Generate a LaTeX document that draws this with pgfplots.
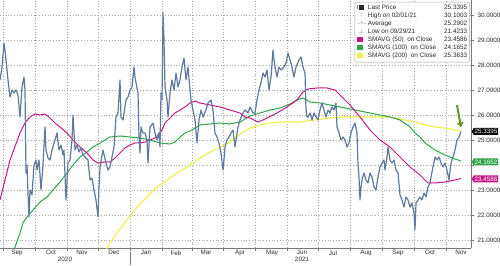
\documentclass[border=0pt]{standalone}
\usepackage{pgfplots}
\pgfplotsset{compat=1.18}
\usepackage{fontspec}
\setmainfont{Liberation Sans}
\usetikzlibrary{arrows.meta,shapes.symbols}
\definecolor{smaA}{RGB}{200,24,135}
\definecolor{smaB}{RGB}{45,165,75}
\definecolor{smaC}{RGB}{240,240,70}
\definecolor{pxc}{RGB}{95,122,155}
\definecolor{gridc}{RGB}{165,165,165}
\definecolor{axc}{RGB}{120,120,120}
\definecolor{arrowc}{RGB}{100,150,40}
\definecolor{txtc}{RGB}{40,40,40}

\pgfplotstableread{
x y
0 27.40
2 27.92
4 28.88
5 28.60
6 28.20
8 27.40
10 26.72
12 27.00
14 26.88
16 27.00
18 26.80
20 25.92
22 27.12
24 27.52
25 27.00
26 23.68
27 24.00
28 22.88
29 21.92
30 23.00
32 22.80
34 24.00
36 24.20
37 23.80
39 24.20
41 23.00
43 24.00
45 25.52
46 24.60
48 24.28
50 24.20
52 24.60
55 25.00
57 25.28
59 24.60
61 24.80
63 24.40
64 24.60
66 22.60
68 24.08
70 24.20
72 25.00
73 26.00
75 24.60
77 24.80
79 24.52
81 24.68
83 24.40
85 24.32
88 24.20
90 23.40
92 23.48
94 23.00
96 22.60
98 21.92
99 23.12
100 23.92
103 24.60
106 24.08
108 23.80
110 23.92
112 24.32
114 24.72
116 25.92
118 26.08
120 27.40
121 25.92
123 25.80
126 26.60
128 26.72
130 27.00
132 27.12
134 27.92
135 27.52
137 27.08
138 26.88
139 25.12
140 24.48
141 25.52
143 25.28
145 25.28
147 25.00
148 24.08
150 25.52
153 25.68
155 25.28
157 25.00
159 25.28
160 24.72
161 26.88
162 26.60
163 30.10
164 29.00
165 27.12
167 26.60
168 25.92
170 26.88
172 27.40
174 27.00
176 27.68
178 27.12
180 27.40
182 27.92
184 28.28
186 27.40
188 27.92
190 27.00
191 26.60
193 26.20
195 25.80
197 24.88
199 25.80
201 26.20
203 25.92
206 26.20
208 26.48
211 26.60
213 26.20
215 25.28
217 25.12
219 24.88
221 24.48
223 23.80
224 24.20
225 24.72
227 25.00
229 25.12
231 25.28
233 25.40
235 24.72
236 25.00
238 25.52
240 25.80
243 26.08
245 26.20
248 26.08
250 26.32
253 26.08
255 26.08
257 26.60
259 27.00
261 27.28
263 27.68
265 27.52
267 27.80
269 27.00
271 27.52
273 28.60
274 28.20
275 27.92
277 27.52
279 27.92
281 27.80
284 27.92
286 28.08
288 28.48
290 28.20
292 27.92
294 27.52
296 27.92
299 28.20
301 28.32
303 27.92
305 27.68
306 26.20
307 25.92
308 25.92
310 26.08
312 25.80
314 26.08
316 25.92
318 25.80
320 26.20
322 26.48
324 26.20
326 25.92
328 26.20
330 26.08
332 26.32
334 26.20
336 26.48
337 25.52
339 25.28
341 25.00
343 25.12
345 25.00
347 24.72
349 24.88
351 25.28
353 25.52
355 25.68
357 25.28
358 24.00
359 23.52
360 22.60
361 23.12
362 23.40
364 23.68
366 23.40
368 23.28
370 23.68
372 23.52
374 23.12
376 23.00
378 23.52
380 23.92
382 24.08
384 24.20
385 23.80
387 24.32
388 24.72
390 24.20
392 24.08
394 24.20
396 23.80
398 23.68
400 22.80
402 22.60
404 22.32
406 22.72
408 22.60
410 22.32
412 22.48
414 22.08
415 21.42
416 22.48
418 22.60
420 22.72
422 22.60
424 22.88
426 22.72
428 23.12
430 23.28
431 23.52
433 23.92
435 24.32
437 24.20
439 24.32
441 24.08
443 23.92
445 24.08
447 23.80
449 23.40
451 24.08
453 24.32
455 24.60
457 25.00
459 25.12
461 25.34
}\pricetable

\pgfplotstableread{
x y
0 22.60
10 24.20
20 25.28
25 25.68
30 25.92
35 26.04
40 26.00
45 26.04
50 25.88
55 25.68
60 25.52
67 25.28
73 25.00
80 24.72
87 24.48
93 24.20
98 24.08
105 24.12
110 24.12
115 24.28
120 24.48
125 24.68
130 24.80
135 24.88
140 24.88
145 24.92
150 25.00
155 25.08
158 25.20
162 25.40
165 25.68
170 25.88
175 26.08
180 26.20
185 26.32
190 26.48
195 26.56
200 26.48
210 26.40
220 26.32
230 26.20
240 26.08
245 25.92
250 25.88
258 25.72
263 25.80
267 25.88
277 26.08
287 26.32
297 26.60
303 26.92
308 27.04
317 27.08
327 27.08
335 27.00
342 26.72
350 26.40
360 25.92
370 25.40
380 25.00
390 24.72
400 24.32
410 23.92
420 23.60
428 23.28
435 23.28
445 23.32
455 23.40
461 23.4586
}\smafifty

\pgfplotstableread{
x y
14 20.60
20 21.28
23 21.68
27 21.92
33 22.20
40 22.52
47 22.72
53 23.00
60 23.32
67 23.68
73 24.00
80 24.32
87 24.52
93 24.72
100 24.88
105 25.00
110 25.12
120 25.16
130 25.12
140 25.08
150 25.00
160 24.88
170 24.84
175 24.92
180 25.12
185 25.28
190 25.36
200 25.60
210 25.64
220 25.68
230 25.64
240 25.72
250 25.96
260 26.08
270 26.20
280 26.28
290 26.44
297 26.60
303 26.68
310 26.52
320 26.48
330 26.40
340 26.32
350 26.24
360 26.16
370 26.08
380 26.00
390 25.92
400 25.80
410 25.52
415 25.28
420 25.12
425 24.88
435 24.60
445 24.40
455 24.24
461 24.1652
}\smahundred

\pgfplotstableread{
x y
106 20.60
110 20.88
117 21.28
127 21.80
137 22.32
147 22.72
157 23.12
167 23.40
177 23.68
187 23.92
195 24.12
200 24.28
210 24.52
220 24.72
230 24.92
240 25.24
250 25.48
260 25.60
270 25.68
280 25.72
290 25.72
300 25.72
315 25.80
330 25.88
345 25.92
360 25.92
375 25.92
385 25.92
395 25.88
405 25.80
415 25.72
425 25.60
435 25.52
445 25.48
455 25.40
461 25.3633
}\smatwohundred

\begin{document}
\begin{tikzpicture}[font=\fontsize{6.3}{7.5}\selectfont]
\begin{axis}[
  at={(0,0)}, anchor=south west,
  scale only axis, width=471pt, height=248pt,
  xmin=0, xmax=471, ymin=20.68, ymax=30.6,
  axis x line*=bottom, axis y line*=right,
  axis line style={axc, line width=0.8pt},
  xtick={3,35,67,98,130,162,192,223,255,287,318,350,382,414,446},
  xticklabels={},
  extra x ticks={17,51,82,114,146,176,206,240,272,302,333,366,398,430,461},
  extra x tick labels={Sep,Oct,Nov,Dec,Jan,Feb,Mar,Apr,May,Jun,Jul,Aug,Sep,Oct,Nov},
  extra x tick style={major tick length=0pt, grid=none, tick label style={yshift=1pt}},
  ytick={21,22,...,30},
  yticklabels={21.0000,22.0000,23.0000,{},25.0000,26.0000,27.0000,28.0000,29.0000,30.0000},
  ticklabel style={text=txtc},
  grid=major,
  major grid style={gridc, dash pattern=on 0.8pt off 2pt, line width=0.6pt},
  tick align=outside, major tick length=3pt,
  tick style={axc, line width=0.6pt},
  clip mode=individual,
]
\addplot[smaC, line width=1.1pt] table[x=x,y=y] {\smatwohundred};
\addplot[smaB, line width=1pt] table[x=x,y=y] {\smahundred};
\addplot[smaA, line width=1pt] table[x=x,y=y] {\smafifty};
\addplot[pxc, line width=1.2pt, line join=round] table[x=x,y=y] {\pricetable};

\draw[arrowc, line width=2pt, -{Triangle[width=6.5pt,length=5pt]}] (axis cs:457,26.4) -- (axis cs:461,25.5);

% last value boxes
\node[signal, signal to=west, signal pointer angle=120, fill=black, text=white, inner xsep=0.8pt, inner ysep=0.5pt, anchor=west, minimum height=7pt] at (axis cs:471.5,25.34) {25.3395};
\node[signal, signal to=west, signal pointer angle=120, fill=smaB, text=white, inner xsep=0.8pt, inner ysep=0.5pt, anchor=west, minimum height=7pt] at (axis cs:471.5,24.12) {24.1652};
\node[signal, signal to=west, signal pointer angle=120, fill=smaA, text=white, inner xsep=0.8pt, inner ysep=0.5pt, anchor=west, minimum height=7pt] at (axis cs:471.5,23.44) {23.4586};

% legend
\node[draw=gray!70, fill=white, anchor=north east, inner sep=2pt, line width=0.5pt, rounded corners=1pt, font=\fontsize{6.4}{8}\selectfont, text=txtc] at (axis cs:469.5,30.52) {%
\begin{tabular}{@{}l@{\hspace{2pt}}l@{\hspace{8pt}}r@{}}
{\color{gray}\rule[0.3ex]{1.2pt}{3.5pt}}\,\rule{4.5pt}{4.5pt} & Last Price & 25.3395\\
\hspace{1.5pt}{\color{gray}$\top$} & High on 02/01/21 & 30.1003\\
\hspace{1pt}{\color{gray}-+-} & Average & 25.2902\\
\hspace{1.5pt}{\color{gray}$\bot$} & Low on 09/29/21 & 21.4233\\
{\color{smaA}\rule{6.5pt}{5pt}} & SMAVG (50)\ \ on Close & 23.4586\\
{\color{smaB}\rule{6.5pt}{5pt}} & SMAVG (100)\ \ on Close & 24.1652\\
{\color{smaC}\rule{6.5pt}{5pt}} & SMAVG (200)\ \ on Close & 25.3633
\end{tabular}};

\coordinate (sepA) at (axis cs:130,20.68);
\coordinate (yrA) at (axis cs:65,20.68);
\coordinate (yrB) at (axis cs:302,20.68);
\end{axis}
\draw[axc, line width=0.5pt] ([yshift=-4pt]sepA) -- ([yshift=-17pt]sepA);
\node[text=txtc] at ([yshift=-11pt]yrA) {2020};
\node[text=txtc] at ([yshift=-11pt]yrB) {2021};
\pgfresetboundingbox
\path[use as bounding box] (0,-17pt) rectangle (500pt,248pt);
\end{tikzpicture}
\end{document}
